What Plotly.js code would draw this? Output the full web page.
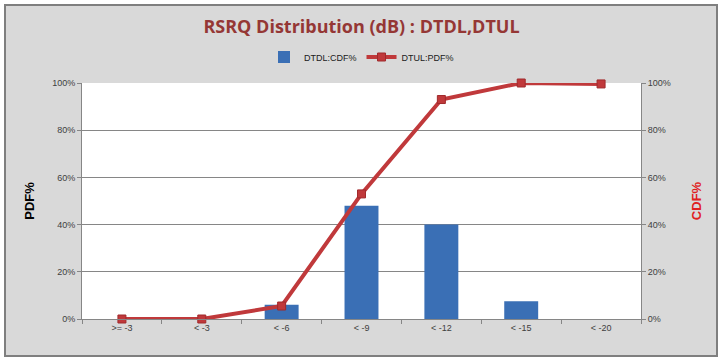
<!DOCTYPE html>
<html>
<head>
<meta charset="utf-8">
<script src="https://cdn.plot.ly/plotly-3.0.1.min.js"></script>
<style>html,body{margin:0;padding:0;background:#fff;}#chart{width:723px;height:361px;}</style>
</head>
<body>
<div id="chart"></div>
<script>
const categories = [">= -3", "< -3", "< -6", "< -9", "< -12", "< -15", "< -20"];
const barName = "DTDL:CDF%";
const barValues = [0, 0, 6, 48, 40, 7.5, 0];
const lineName = "DTUL:PDF%";
const lineValues = [0, 0, 5.5, 53, 93, 100, 99.6];
const yTicks = [0, 20, 40, 60, 80, 100];
const yTickText = ["0%", "20%", "40%", "60%", "80%", "100%"];

const traces = [
  {
    type: "bar", x: categories, y: barValues, name: barName,
    marker: {color: "#3a6fb5", line: {color: "#24528f", width: 0}},
    yaxis: "y"
  },
  {
    type: "scatter", mode: "lines+markers", x: categories, y: lineValues, name: lineName,
    line: {color: "#c0393b", width: 4},
    marker: {symbol: "square", size: 8, color: "#c0393b", line: {color: "#a02a2c", width: 1}},
    yaxis: "y2", cliponaxis: false
  }
];

const tickFont = {family: "Liberation Sans, Arial, sans-serif", size: 9, color: "#404040"};
const layout = {
  width: 723, height: 361,
  paper_bgcolor: "#ffffff",
  plot_bgcolor: "#ffffff",
  margin: {l: 82, r: 82, t: 83, b: 42},
  bargap: 0.575,
  title: {
    text: "<b>RSRQ Distribution (dB) : DTDL,DTUL</b>",
    font: {family: "Open Sans, Noto Sans, sans-serif", size: 18, color: "#953735"},
    x: 0.5, xanchor: "center", y: 1 - 27 / 361, yanchor: "middle"
  },
  showlegend: true,
  legend: {
    orientation: "h", x: 0.5, xanchor: "center", y: (319 - 57) / 236, yanchor: "middle",
    font: {family: "Liberation Sans, Arial, sans-serif", size: 9, color: "#202020"},
    bgcolor: "rgba(0,0,0,0)", itemwidth: 30, tracegroupgap: 0
  },
  xaxis: {
    type: "category", showgrid: false, zeroline: false,
    showline: true, linecolor: "#868686", linewidth: 1,
    ticks: "outside", tickcolor: "#868686", ticklen: 4, tickson: "boundaries",
    tickfont: tickFont, fixedrange: true
  },
  yaxis: {
    range: [0, 100], tickvals: yTicks, ticktext: yTickText,
    showgrid: true, gridcolor: "#868686", gridwidth: 1,
    showline: true, linecolor: "#868686", zeroline: false,
    ticks: "outside", tickcolor: "#868686", ticklen: 4,
    tickfont: tickFont,
    title: {text: "<b>PDF%</b>", font: {family: "Liberation Sans, Arial, sans-serif", size: 13, color: "#000000"}, standoff: 14}
  },
  yaxis2: {
    range: [0, 100], tickvals: yTicks, ticktext: yTickText,
    overlaying: "y", side: "right", showgrid: false,
    showline: true, linecolor: "#868686", zeroline: false,
    ticks: "outside", tickcolor: "#868686", ticklen: 4,
    tickfont: tickFont,
    title: {text: "<b>CDF%</b>", font: {family: "Liberation Sans, Arial, sans-serif", size: 13, color: "#e02020"}, standoff: 22}
  },
  shapes: [
    {type: "rect", xref: "paper", yref: "paper", layer: "below",
     x0: 0, x1: 1, y0: 0, y1: 1,
     fillcolor: "#d9d9d9", line: {color: "#7f7f7f", width: 2}},
    {type: "rect", xref: "paper", yref: "paper", layer: "below",
     x0: 0, x1: 1, y0: 0, y1: 1,
     fillcolor: "#ffffff", line: {width: 0}}
  ]
};
// position the background rectangle in pixels
const pw = 723 - 82 - 82, ph = 361 - 83 - 42;
layout.shapes[0].x0 = (5 - 82) / pw;
layout.shapes[0].x1 = (717 - 82) / pw;
layout.shapes[0].y0 = (319 - 356) / ph;
layout.shapes[0].y1 = (319 - 5) / ph;

Plotly.newPlot("chart", traces, layout, {displayModeBar: false, staticPlot: true});
</script>
</body>
</html>
